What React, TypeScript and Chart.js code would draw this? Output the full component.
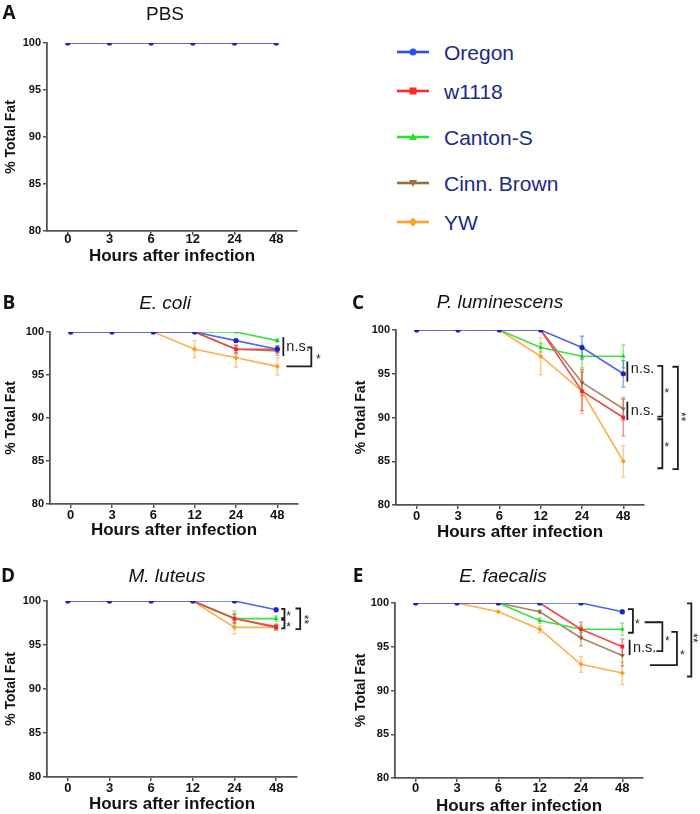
import React, { useEffect, useRef } from "react";
import { Chart, registerables } from "chart.js";
Chart.register(...registerables);

const FONT = "'Liberation Sans', Arial, sans-serif";

// ---------- shared categories / labels ----------
const hours = ["0", "3", "6", "12", "24", "48"];
const yTickValues = [80, 85, 90, 95, 100];
const strains = ["Oregon", "w1118", "Canton-S", "Cinn. Brown", "YW"];

// ---------- A: PBS ----------
const pbsOregon = [100, 100, 100, 100, 100, 100];
const pbsW1118 = [100, 100, 100, 100, 100, 100];
const pbsCanton = [100, 100, 100, 100, 100, 100];
const pbsCinn = [100, 100, 100, 100, 100, 100];
const pbsYW = [100, 100, 100, 100, 100, 100];
const pbsNoErr = [0, 0, 0, 0, 0, 0];

// ---------- B: E. coli ----------
const ecoliOregon = [100, 100, 100, 100, 99, 98];
const ecoliW1118 = [100, 100, 100, 100, 98, 98];
const ecoliCanton = [100, 100, 100, 100, 100, 99];
const ecoliCinn = [100, 100, 100, 100, 98, 97.8];
const ecoliYW = [100, 100, 100, 98, 97, 96];
const ecoliOregonErr = [0, 0, 0, 0, 0.2, 0.4];
const ecoliW1118Err = [0, 0, 0, 0, 0.5, 0.3];
const ecoliCantonErr = [0, 0, 0, 0, 0, 0.2];
const ecoliCinnErr = [0, 0, 0, 0, 0.4, 0.5];
const ecoliYWErr = [0, 0, 0, 1.0, 1.1, 1.0];

// ---------- C: P. luminescens ----------
const plumOregon = [100, 100, 100, 100, 98, 95];
const plumW1118 = [100, 100, 100, 100, 93, 90];
const plumCanton = [100, 100, 100, 98, 97, 97];
const plumCinn = [100, 100, 100, 100, 94, 91];
const plumYW = [100, 100, 100, 97, 93, 85];
const plumOregonErr = [0, 0, 0, 0, 1.3, 1.5];
const plumW1118Err = [0, 0, 0, 0, 2.2, 2.1];
const plumCantonErr = [0, 0, 0, 0.5, 1.3, 1.3];
const plumCinnErr = [0, 0, 0, 0, 1.5, 1.3];
const plumYWErr = [0, 0, 0, 2.1, 2.5, 1.8];

// ---------- D: M. luteus ----------
const mlutOregon = [100, 100, 100, 100, 100, 99];
const mlutW1118 = [100, 100, 100, 100, 98, 97];
const mlutCanton = [100, 100, 100, 100, 98, 98];
const mlutCinn = [100, 100, 100, 100, 98, 97.1];
const mlutYW = [100, 100, 100, 100, 97, 97];
const mlutOregonErr = [0, 0, 0, 0, 0, 0.2];
const mlutW1118Err = [0, 0, 0, 0, 0.5, 0.3];
const mlutCantonErr = [0, 0, 0, 0, 0.85, 0.3];
const mlutCinnErr = [0, 0, 0, 0, 0.5, 0.3];
const mlutYWErr = [0, 0, 0, 0, 0.75, 0.3];

// ---------- E: E. faecalis ----------
const efaeOregon = [100, 100, 100, 100, 100, 99];
const efaeW1118 = [100, 100, 100, 100, 97, 95];
const efaeCanton = [100, 100, 100, 98, 97, 97];
const efaeCinn = [100, 100, 100, 99, 96, 94];
const efaeYW = [100, 100, 99, 97, 93, 92];
const efaeOregonErr = [0, 0, 0, 0, 0, 0.2];
const efaeW1118Err = [0, 0, 0, 0, 0.8, 0.9];
const efaeCantonErr = [0, 0, 0, 0.3, 0.4, 0.7];
const efaeCinnErr = [0, 0, 0, 0.2, 0.9, 1.2];
const efaeYWErr = [0, 0, 0, 0.4, 0.9, 1.3];

// ---------- significance annotations (y in data units, dx = px right of the 48 h tick) ----------
const pbsNotes: any[] = [];
const ecoliNotes = [
  { kind: "bar", dx: 6, y1: 99.4, y2: 97.2 },
  { kind: "ns", dx: 9, y: 98.3 },
  { kind: "bracket", dx: 34, y1: 98.2, y2: 96, armTop: 4, armBottom: 25 },
  { kind: "star", dx: 41, y: 97.2 },
];
const plumNotes = [
  { kind: "bar", dx: 4, y1: 96.4, y2: 94.1 },
  { kind: "ns", dx: 7.5, y: 95.5 },
  { kind: "bar", dx: 4, y1: 91.8, y2: 89.7 },
  { kind: "ns", dx: 7.5, y: 90.7 },
  { kind: "bracket", dx: 39, y1: 95.9, y2: 90.1, armTop: 5, armBottom: 5 },
  { kind: "star", dx: 43.5, y: 93.1 },
  { kind: "bracket", dx: 39, y1: 89.8, y2: 84.2, armTop: 5, armBottom: 5 },
  { kind: "star", dx: 43.5, y: 87 },
  { kind: "bracket", dx: 54.6, y1: 95.8, y2: 84.1, armTop: 5.5, armBottom: 5.5 },
  { kind: "stars", dx: 60.6, y: 90.1 },
];
const mlutNotes = [
  { kind: "bracket", dx: 8.3, y1: 99.1, y2: 98.05, armTop: 3.3, armBottom: 3.3 },
  { kind: "star", dx: 12.5, y: 98.6 },
  { kind: "bracket", dx: 8.3, y1: 97.85, y2: 96.9, armTop: 3.3, armBottom: 3.3 },
  { kind: "star", dx: 12.5, y: 97.4 },
  { kind: "bracket", dx: 24, y1: 99.15, y2: 96.8, armTop: 4.7, armBottom: 4.7 },
  { kind: "stars", dx: 30.6, y: 97.9 },
];
const efaeNotes = [
  { kind: "bracket", dx: 10.6, y1: 99.3, y2: 96.6, armTop: 5, armBottom: 5 },
  { kind: "star", dx: 15, y: 97.9 },
  { kind: "bracket", dx: 40, y1: 97.8, y2: 94.5, armTop: 17.7, armBottom: 6 },
  { kind: "star", dx: 45, y: 96.0 },
  { kind: "bar", dx: 7.3, y1: 95.8, y2: 94.05 },
  { kind: "ns", dx: 10.6, y: 94.9 },
  { kind: "bracket", dx: 54.6, y1: 96.7, y2: 92.9, armTop: 5.6, armBottom: 27 },
  { kind: "star", dx: 60, y: 94.4 },
  { kind: "bracket", dx: 69, y1: 99.96, y2: 91.6, armTop: 4.3, armBottom: 4.3 },
  { kind: "stars", dx: 74, y: 96 },
];

// ---------- styles ----------
const lineColors = ["#4c68ee", "#f04848", "#3ee03e", "#a88460", "#ffae4c"];
const pointColors = ["#1c22c8", "#ff1f1f", "#14d014", "#8a6232", "#ff9a1c"];
const errColors = ["#4c68ee", "#f04848", "#3ee03e", "#a88460", "#ffa640"];
const pointStyles = ["circle", "rect", "triangle", "triangle", "rectRot"];
const pointRotations = [0, 0, 0, 180, 0];
const legendLine = ["#2a4cf0", "#ff2a2a", "#2ee02e", "#9a6e3c", "#ffa424"];
const legendRows = [52, 91, 137, 183, 222];

type Panel = {
  letter: string;
  title: string;
  italic: boolean;
  series: number[][];
  errors: number[][];
  notes: any[];
  canvas: { left: number; top: number; w: number; h: number };
  wy: number;
  padTop: number;
  padRight: number;
  padBottom: number;
  hx: number;
  tickPad: number;
  titlePad: number;
  titlePos: [number, number];
  letterPos: [number, number];
};

const panels: Panel[] = [
  {
    letter: "A", title: "PBS", italic: false,
    series: [pbsOregon, pbsW1118, pbsCanton, pbsCinn, pbsYW],
    errors: [pbsNoErr, pbsNoErr, pbsNoErr, pbsNoErr, pbsNoErr],
    notes: pbsNotes,
    canvas: { left: 0, top: 0, w: 350, h: 275 },
    wy: 47, padTop: 43, padRight: 53, padBottom: 8, hx: 36, tickPad: -3, titlePad: 0,
    titlePos: [165, 13], letterPos: [9, 12],
  },
  {
    letter: "B", title: "E. coli", italic: true,
    series: [ecoliOregon, ecoliW1118, ecoliCanton, ecoliCinn, ecoliYW],
    errors: [ecoliOregonErr, ecoliW1118Err, ecoliCantonErr, ecoliCinnErr, ecoliYWErr],
    notes: ecoliNotes,
    canvas: { left: 0, top: 285, w: 350, h: 260 },
    wy: 50, padTop: 47, padRight: 52, padBottom: 4, hx: 37, tickPad: 0, titlePad: 0,
    titlePos: [165, 302], letterPos: [9, 302],
  },
  {
    letter: "C", title: "P. luminescens", italic: true,
    series: [plumOregon, plumW1118, plumCanton, plumCinn, plumYW],
    errors: [plumOregonErr, plumW1118Err, plumCantonErr, plumCinnErr, plumYWErr],
    notes: plumNotes,
    canvas: { left: 350, top: 285, w: 350, h: 260 },
    wy: 46, padTop: 45, padRight: 56, padBottom: 2, hx: 38, tickPad: 0, titlePad: 0,
    titlePos: [500, 301], letterPos: [358, 302],
  },
  {
    letter: "D", title: "M. luteus", italic: true,
    series: [mlutOregon, mlutW1118, mlutCanton, mlutCinn, mlutYW],
    errors: [mlutOregonErr, mlutW1118Err, mlutCantonErr, mlutCinnErr, mlutYWErr],
    notes: mlutNotes,
    canvas: { left: 0, top: 550, w: 350, h: 264 },
    wy: 47, padTop: 51, padRight: 53, padBottom: 0, hx: 37, tickPad: 0, titlePad: -1,
    titlePos: [167, 575], letterPos: [8, 575],
  },
  {
    letter: "E", title: "E. faecalis", italic: true,
    series: [efaeOregon, efaeW1118, efaeCanton, efaeCinn, efaeYW],
    errors: [efaeOregonErr, efaeW1118Err, efaeCantonErr, efaeCinnErr, efaeYWErr],
    notes: efaeNotes,
    canvas: { left: 350, top: 550, w: 350, h: 264 },
    wy: 45, padTop: 53, padRight: 57, padBottom: 0, hx: 36, tickPad: -1, titlePad: -3,
    titlePos: [503, 575], letterPos: [358, 575],
  },
];

function makeOverlay(p: Panel) {
  return {
    id: "overlay" + p.letter,
    beforeDatasetsDraw(chart: any) {
      const ctx = chart.ctx;
      const xs = chart.scales.x;
      const ys = chart.scales.y;
      for (let si = p.errors.length - 1; si >= 0; si--) {
        const errArr = p.errors[si];
        ctx.save();
        ctx.strokeStyle = errColors[si];
        ctx.globalAlpha = 0.6;
        ctx.lineWidth = 1.5;
        errArr.forEach((e, i) => {
          if (!e) return;
          const px = xs.getPixelForTick(i);
          const v = p.series[si][i];
          const t = ys.getPixelForValue(v + e);
          const b = ys.getPixelForValue(v - e);
          ctx.beginPath();
          ctx.moveTo(px, t);
          ctx.lineTo(px, b);
          ctx.moveTo(px - 2, t);
          ctx.lineTo(px + 2, t);
          ctx.moveTo(px - 2, b);
          ctx.lineTo(px + 2, b);
          ctx.stroke();
        });
        ctx.restore();
      }
    },
    afterDraw(chart: any) {
      const ctx = chart.ctx;
      const xs = chart.scales.x;
      const ys = chart.scales.y;
      const xl = xs.getPixelForTick(hours.length - 1);
      ctx.save();
      ctx.strokeStyle = "#1e1e1e";
      ctx.fillStyle = "#1e1e1e";
      ctx.lineWidth = 1.8;
      ctx.lineJoin = "miter";
      for (const n of p.notes) {
        const x = xl + n.dx;
        if (n.kind === "bar") {
          ctx.beginPath();
          ctx.moveTo(x, ys.getPixelForValue(n.y1));
          ctx.lineTo(x, ys.getPixelForValue(n.y2));
          ctx.stroke();
        } else if (n.kind === "bracket") {
          const t = ys.getPixelForValue(n.y1);
          const b = ys.getPixelForValue(n.y2);
          ctx.beginPath();
          ctx.moveTo(x - n.armTop, t);
          ctx.lineTo(x, t);
          ctx.lineTo(x, b);
          ctx.lineTo(x - n.armBottom, b);
          ctx.stroke();
        } else if (n.kind === "ns") {
          ctx.font = `14.5px ${FONT}`;
          ctx.textAlign = "left";
          ctx.textBaseline = "middle";
          ctx.fillText("n.s.", x, ys.getPixelForValue(n.y));
        } else if (n.kind === "star") {
          const s = 12;
          ctx.font = `${s}px ${FONT}`;
          ctx.textAlign = "center";
          ctx.textBaseline = "alphabetic";
          ctx.fillText("*", x, ys.getPixelForValue(n.y) + 0.58 * s);
        } else if (n.kind === "stars") {
          const s = 12;
          ctx.save();
          ctx.translate(x, ys.getPixelForValue(n.y));
          ctx.rotate(Math.PI / 2);
          ctx.font = `${s}px ${FONT}`;
          ctx.textAlign = "center";
          ctx.textBaseline = "alphabetic";
          ctx.fillText("**", 0, 0.58 * s);
          ctx.restore();
        }
      }
      ctx.restore();
    },
  };
}

function PanelChart({ p }: { p: Panel }) {
  const ref = useRef<HTMLCanvasElement | null>(null);
  useEffect(() => {
    if (!ref.current) return;
    const axisColor = "#555";
    const datasets = strains.map((name, i) => ({
      label: name,
      data: p.series[i],
      borderColor: lineColors[i],
      backgroundColor: pointColors[i],
      pointBackgroundColor: pointColors[i],
      pointBorderColor: pointColors[i],
      pointStyle: pointStyles[i] as any,
      pointRotation: pointRotations[i],
      pointRadius: 2.6,
      pointBorderWidth: 0,
      borderWidth: 1.6,
      tension: 0,
      fill: false,
    }));
    const chart = new Chart(ref.current, {
      type: "line",
      data: { labels: hours, datasets },
      options: {
        responsive: false,
        maintainAspectRatio: false,
        animation: false,
        events: [],
        layout: { padding: { left: 0, top: p.padTop, right: p.padRight, bottom: p.padBottom } },
        plugins: {
          legend: { display: false },
          tooltip: { enabled: false },
          title: { display: false },
        },
        scales: {
          x: {
            type: "category",
            offset: true,
            grid: { display: true, drawOnChartArea: false, drawTicks: true, tickLength: 4, color: axisColor, lineWidth: 1.5 },
            border: { display: true, color: axisColor, width: 1.8 },
            ticks: {
              font: { family: FONT, size: 13, weight: "bold" },
              color: "#111",
              padding: p.tickPad,
              autoSkip: false,
              maxRotation: 0,
            },
            title: {
              display: true,
              text: "Hours after infection",
              font: { family: FONT, size: 17, weight: "bold" },
              color: "#111",
              padding: { top: 0, bottom: p.titlePad },
            },
            afterFit: (s: any) => {
              s.height = p.hx;
            },
          },
          y: {
            min: yTickValues[0],
            max: yTickValues[yTickValues.length - 1],
            grid: { display: true, drawOnChartArea: false, drawTicks: true, tickLength: 4, color: axisColor, lineWidth: 1.5 },
            border: { display: true, color: axisColor, width: 1.8 },
            ticks: {
              stepSize: yTickValues[1] - yTickValues[0],
              font: { family: FONT, size: 11, weight: "bold" },
              color: "#111",
              padding: 2,
            },
            title: {
              display: true,
              text: "% Total Fat",
              font: { family: FONT, size: 14, weight: "bold" },
              color: "#111",
              padding: { top: 3, bottom: 0 },
            },
            afterFit: (s: any) => {
              s.width = p.wy;
            },
          },
        },
      } as any,
      plugins: [makeOverlay(p)],
    });
    return () => chart.destroy();
  }, [p]);
  return (
    <canvas
      ref={ref}
      width={p.canvas.w}
      height={p.canvas.h}
      style={{ position: "absolute", left: p.canvas.left, top: p.canvas.top, width: p.canvas.w, height: p.canvas.h }}
    />
  );
}

function LegendMarker({ i }: { i: number }) {
  const c = legendLine[i];
  const cx = 16, cy = 6;
  let shape: any = null;
  if (i === 0) shape = <circle cx={cx} cy={cy} r={3.5} fill={c} />;
  else if (i === 1) shape = <rect x={cx - 3.5} y={cy - 3.5} width={7} height={7} fill={c} />;
  else if (i === 2) shape = <polygon points={`${cx},${cy - 4} ${cx + 4},${cy + 3} ${cx - 4},${cy + 3}`} fill={c} />;
  else if (i === 3) shape = <polygon points={`${cx},${cy + 4} ${cx + 4},${cy - 3} ${cx - 4},${cy - 3}`} fill={c} />;
  else shape = <polygon points={`${cx},${cy - 4.5} ${cx + 4.5},${cy} ${cx},${cy + 4.5} ${cx - 4.5},${cy}`} fill={c} />;
  return (
    <svg width={32} height={12} style={{ position: "absolute", left: 397, top: legendRows[i] - 6 }}>
      <line x1={0} y1={cy} x2={32} y2={cy} stroke={c} strokeWidth={2.6} />
      {shape}
    </svg>
  );
}

export default function App() {
  return (
    <div style={{ position: "absolute", left: 0, top: 0, width: 700, height: 814, background: "#fff", overflow: "hidden", fontFamily: FONT }}>
      {panels.map((p) => (
        <React.Fragment key={p.letter}>
          <PanelChart p={p} />
          <div
            style={{
              position: "absolute", left: p.letterPos[0], top: p.letterPos[1], transform: "translate(-50%, -50%)",
              fontFamily: "'Open Sans', sans-serif", fontWeight: 700, fontSize: 19, lineHeight: 1, color: "#111",
            }}
          >
            {p.letter}
          </div>
          <div
            style={{
              position: "absolute", left: p.titlePos[0], top: p.titlePos[1], transform: "translate(-50%, -50%)",
              fontFamily: FONT, fontStyle: p.italic ? "italic" : "normal", fontSize: 19, lineHeight: 1, color: "#111", whiteSpace: "nowrap",
            }}
          >
            {p.title}
          </div>
        </React.Fragment>
      ))}
      {strains.map((s, i) => (
        <React.Fragment key={s}>
          <LegendMarker i={i} />
          <div
            style={{
              position: "absolute", left: 444, top: legendRows[i], transform: "translateY(-50%)",
              fontFamily: FONT, fontSize: 21, lineHeight: 1, color: "#1b2a8a", whiteSpace: "nowrap",
            }}
          >
            {s}
          </div>
        </React.Fragment>
      ))}
    </div>
  );
}
